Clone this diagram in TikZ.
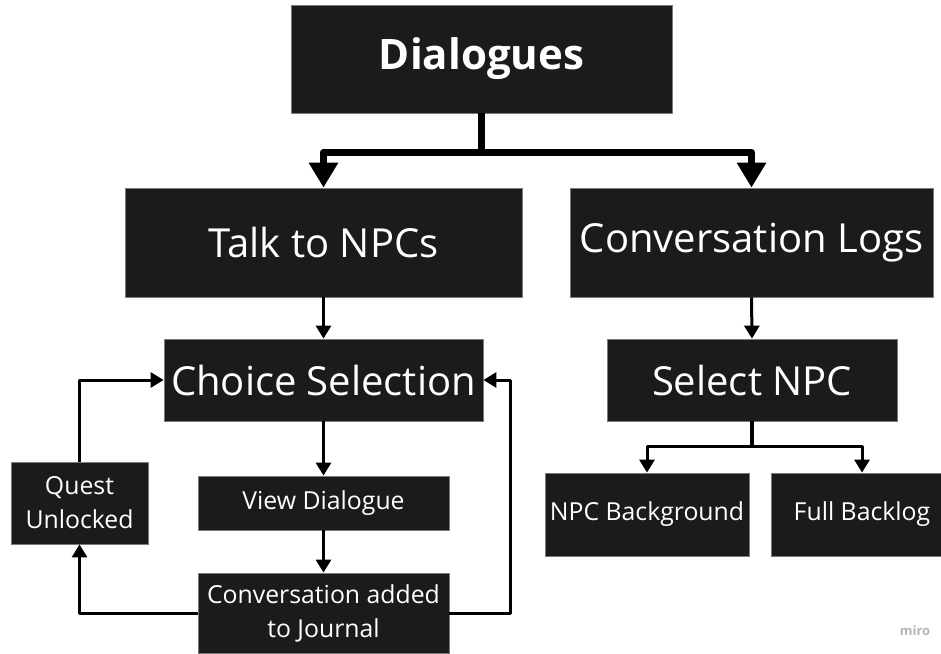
\documentclass[tikz,border=0pt]{standalone}
\usepackage{fontspec}
\setmainfont{Open Sans}
\usetikzlibrary{arrows.meta}
\definecolor{boxfill}{HTML}{1B1B1B}
\definecolor{boxline}{HTML}{7A7A7A}
\definecolor{mirogray}{HTML}{B4B4BC}
\tikzset{
  box/.style={draw=boxline, line width=0.8pt, fill=boxfill, text=white, inner sep=0pt, align=center, anchor=center},
  bigtxt/.style={font=\fontsize{40}{46}\selectfont},
  smalltxt/.style={font=\fontsize{24.8}{34}\selectfont},
  thick arrow/.style={line width=7pt, line join=round, -{Triangle[length=25pt,width=28pt]}},
  thin arrow/.style={line width=3pt, line join=round, -{Triangle[length=13pt,width=15pt]}},
}
\begin{document}
\begin{tikzpicture}[x=1pt, y=-1pt]
\useasboundingbox[fill=white] (0,0) rectangle (941,653);

\node[box, minimum width=381pt, minimum height=108pt, font=\fontsize{42}{48}\selectfont\bfseries] (dia) at (481.5,59) {Dialogues};
\node[box, bigtxt, minimum width=397pt, minimum height=109pt] (talk) at (323.5,242.5) {Talk to NPCs};
\node[box, bigtxt, minimum width=363pt, minimum height=109pt] (logs) at (751.5,242.5) {Conversation Logs};
\node[box, bigtxt, minimum width=319pt, minimum height=82pt] (choice) at (323.5,380) {Choice Selection};
\node[box, bigtxt, minimum width=290pt, minimum height=82pt] (sel) at (752,380) {Select NPC};
\node[box, smalltxt, minimum width=251pt, minimum height=54pt] (view) at (323.5,503) {View Dialogue};
\node[box, smalltxt, minimum width=137pt, minimum height=82pt] (quest) at (79.5,503) {Quest\\Unlocked};
\node[box, smalltxt, minimum width=251pt, minimum height=80pt] (conv) at (323.5,613) {Conversation added\\to Journal};
\node[box, smalltxt, minimum width=204pt, minimum height=83pt] (npcbg) at (647,514.5) {NPC Background};
\node[box, smalltxt, minimum width=182pt, minimum height=83pt] (full) at (862,514.5) {Full Backlog};

\node[text=mirogray, font=\fontsize{13}{15}\selectfont\bfseries, inner sep=0pt] (miro) at (915,631) {miro};

% top split
\coordinate (split) at (dia.south |- 0,152);
\draw[line width=7pt, line join=round] (dia.south) -- (split);
\draw[thick arrow] (split) -- (talk.north |- split) -- (talk.north);
\draw[thick arrow] (split) -- (logs.north |- split) -- (logs.north);

% left column
\draw[thin arrow] (talk.south) -- (choice.north);
\draw[thin arrow] (choice.south) -- (view.north);
\draw[thin arrow] (view.south) -- (conv.north);

% loops
\coordinate (lc) at (quest.south |- conv.west);
\draw[thin arrow] (conv.west) -- (lc) -- (quest.south);
\coordinate (lt) at (quest.north |- choice.west);
\draw[thin arrow] (quest.north) -- (lt) -- (choice.west);
\coordinate (rb) at (510,613);
\coordinate (rt) at (510,380);
\draw[thin arrow] (conv.east) -- (rb) -- (rt) -- (choice.east);

% right column
\draw[thin arrow] (logs.south) -- (sel.north);
\coordinate (split2) at (sel.south |- 0,446);
\draw[line width=3.5pt] (sel.south) -- (split2);
\draw[thin arrow] (split2) -- (npcbg.north |- split2) -- (npcbg.north);
\draw[thin arrow] (split2) -- (full.north |- split2) -- (full.north);
\end{tikzpicture}
\end{document}
